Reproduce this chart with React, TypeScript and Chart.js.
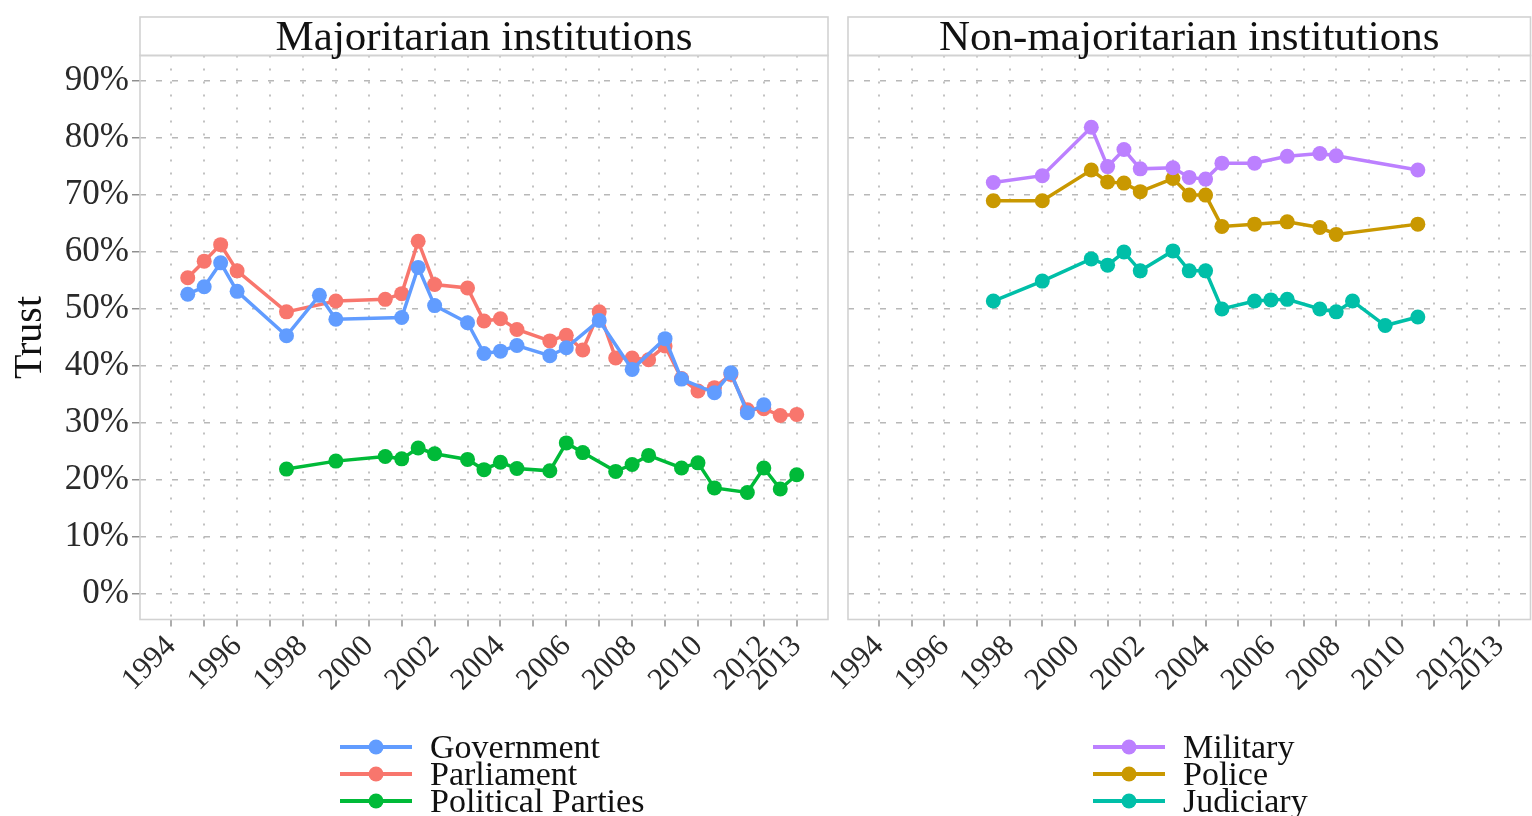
import React, { useEffect, useRef } from 'react';
import { Chart, registerables } from 'chart.js';

Chart.register(...registerables);

// ---------- Data (trust, %) ----------
const GOV_YEARS = [1994.5, 1995, 1995.5, 1996, 1997.5, 1998.5, 1999, 2001, 2001.5, 2002, 2003, 2003.5, 2004, 2004.5, 2005.5, 2006, 2007, 2008, 2009, 2009.5, 2010.5, 2011, 2011.5, 2012];
const GOV_VALUES = [52.6, 53.9, 58.1, 53.1, 45.3, 52.4, 48.2, 48.5, 57.3, 50.6, 47.6, 42.2, 42.6, 43.6, 41.8, 43.2, 48.0, 39.4, 44.8, 37.7, 35.3, 38.8, 31.8, 33.2];

const PARL_YEARS = [1994.5, 1995, 1995.5, 1996, 1997.5, 1999, 2000.5, 2001, 2001.5, 2002, 2003, 2003.5, 2004, 2004.5, 2005.5, 2006, 2006.5, 2007, 2007.5, 2008, 2008.5, 2009, 2009.5, 2010, 2010.5, 2011, 2011.5, 2012, 2012.5, 2013];
const PARL_VALUES = [55.5, 58.4, 61.3, 56.7, 49.5, 51.4, 51.7, 52.7, 61.9, 54.3, 53.7, 47.9, 48.3, 46.4, 44.4, 45.4, 42.8, 49.5, 41.4, 41.4, 41.1, 43.5, 37.8, 35.6, 36.2, 38.5, 32.3, 32.5, 31.3, 31.5];

const PARTY_YEARS = [1997.5, 1999, 2000.5, 2001, 2001.5, 2002, 2003, 2003.5, 2004, 2004.5, 2005.5, 2006, 2006.5, 2007.5, 2008, 2008.5, 2009.5, 2010, 2010.5, 2011.5, 2012, 2012.5, 2013];
const PARTY_VALUES = [21.9, 23.3, 24.1, 23.7, 25.6, 24.6, 23.6, 21.8, 23.1, 22.0, 21.6, 26.5, 24.8, 21.5, 22.7, 24.3, 22.1, 23.0, 18.6, 17.8, 22.1, 18.4, 20.9];

const MIL_YEARS = [1997.5, 1999, 2000.5, 2001, 2001.5, 2002, 2003, 2003.5, 2004, 2004.5, 2005.5, 2006.5, 2007.5, 2008, 2010.5];
const MIL_VALUES = [72.2, 73.4, 81.9, 75.0, 78.0, 74.6, 74.8, 73.1, 72.8, 75.6, 75.6, 76.8, 77.3, 76.9, 74.4];

const POLICE_YEARS = [1997.5, 1999, 2000.5, 2001, 2001.5, 2002, 2003, 2003.5, 2004, 2004.5, 2005.5, 2006.5, 2007.5, 2008, 2010.5];
const POLICE_VALUES = [69.0, 69.0, 74.4, 72.3, 72.1, 70.6, 72.9, 70.0, 70.0, 64.5, 64.9, 65.3, 64.3, 63.1, 64.9];

const JUD_YEARS = [1997.5, 1999, 2000.5, 2001, 2001.5, 2002, 2003, 2003.5, 2004, 2004.5, 2005.5, 2006, 2006.5, 2007.5, 2008, 2008.5, 2009.5, 2010.5];
const JUD_VALUES = [51.4, 54.9, 58.8, 57.7, 60.0, 56.7, 60.2, 56.7, 56.7, 50.0, 51.4, 51.6, 51.7, 50.0, 49.5, 51.4, 47.1, 48.6];

const TICK_YEARS = [1994, 1995, 1996, 1997, 1998, 1999, 2000, 2001, 2002, 2003, 2004, 2005, 2006, 2007, 2008, 2009, 2010, 2011, 2012, 2013];
const LABEL_YEARS = [1994, 1996, 1998, 2000, 2002, 2004, 2006, 2008, 2010, 2012, 2013];
const Y_TICKS = [0, 10, 20, 30, 40, 50, 60, 70, 80, 90];

const LEFT_TITLE = 'Majoritarian institutions';
const RIGHT_TITLE = 'Non-majoritarian institutions';
const Y_TITLE = 'Trust';

const SERIF = "'Liberation Serif', 'Times New Roman', 'DejaVu Serif', serif";

type Series = { label: string; years: number[]; values: number[]; color: string };

const LEFT_SERIES: Series[] = [
  { label: 'Government', years: GOV_YEARS, values: GOV_VALUES, color: '#619CFF' },
  { label: 'Parliament', years: PARL_YEARS, values: PARL_VALUES, color: '#F8766D' },
  { label: 'Political Parties', years: PARTY_YEARS, values: PARTY_VALUES, color: '#00BA38' },
];
const RIGHT_SERIES: Series[] = [
  { label: 'Military', years: MIL_YEARS, values: MIL_VALUES, color: '#BC80FF' },
  { label: 'Police', years: POLICE_YEARS, values: POLICE_VALUES, color: '#C99800' },
  { label: 'Judiciary', years: JUD_YEARS, values: JUD_VALUES, color: '#00BFA8' },
];

const decorPlugin = {
  id: 'panelDecor',
  afterDraw(chart: any, _args: any, opts: any) {
    const { ctx, chartArea: a } = chart;
    ctx.save();
    const stripTop = 17;
    ctx.fillStyle = '#ffffff';
    ctx.fillRect(a.left, stripTop, a.right - a.left, a.top - stripTop);
    ctx.strokeStyle = '#d2d2d2';
    ctx.lineWidth = 1.6;
    ctx.strokeRect(a.left, stripTop, a.right - a.left, a.top - stripTop);
    ctx.strokeRect(a.left, a.top, a.right - a.left, a.bottom - a.top);
    ctx.fillStyle = '#111';
    ctx.font = `43px ${SERIF}`;
    ctx.textAlign = 'center';
    ctx.textBaseline = 'middle';
    ctx.fillText(opts.title, (a.left + a.right) / 2, (stripTop + a.top) / 2 + 2);
    const items: { label: string; color: string }[] = opts.items || [];
    const x0 = opts.legendX;
    items.forEach((it, i) => {
      const y = 747 + i * 27;
      ctx.strokeStyle = it.color;
      ctx.lineWidth = 4;
      ctx.beginPath();
      ctx.moveTo(x0, y);
      ctx.lineTo(x0 + 72, y);
      ctx.stroke();
      ctx.fillStyle = it.color;
      ctx.beginPath();
      ctx.arc(x0 + 36, y, 7.5, 0, Math.PI * 2);
      ctx.fill();
      ctx.fillStyle = '#111';
      ctx.font = `34px ${SERIF}`;
      ctx.textAlign = 'left';
      ctx.textBaseline = 'middle';
      ctx.fillText(it.label, x0 + 90, y + 2);
    });
    ctx.restore();
  },
};

function buildConfig(series: Series[], isLeft: boolean, title: string, legendX: number, yWidth: number, padRight: number): any {
  return {
    type: 'line',
    data: {
      datasets: series.map((s) => ({
        label: s.label,
        data: s.years.map((x, i) => ({ x, y: s.values[i] })),
        borderColor: s.color,
        backgroundColor: s.color,
        pointBackgroundColor: s.color,
        pointBorderColor: s.color,
        pointBorderWidth: 0,
        pointRadius: 7.5,
        borderWidth: 3.5,
        tension: 0,
        fill: false,
      })),
    },
    options: {
      responsive: false,
      animation: false,
      events: [],
      layout: { padding: { left: 0, right: padRight, top: 55.5, bottom: 100.5 } },
      plugins: {
        legend: { display: false },
        tooltip: { enabled: false },
        title: { display: false },
        panelDecor: { title, legendX, items: series.map((s) => ({ label: s.label, color: s.color })) },
      },
      scales: {
        x: {
          type: 'linear',
          min: 1993.05,
          max: 2013.95,
          afterBuildTicks: (scale: any) => {
            scale.ticks = TICK_YEARS.map((v) => ({ value: v }));
          },
          afterFit: (scale: any) => {
            scale.height = 96;
          },
          border: { display: false, dash: [2, 11] },
          grid: {
            color: '#c2c2c2',
            lineWidth: 2,
            tickLength: 7,
            tickColor: '#8a8a8a',
            tickWidth: 1.4,
            tickBorderDash: [],
          },
          ticks: {
            autoSkip: false,
            minRotation: 45,
            maxRotation: 45,
            padding: 2,
            color: '#2a2a2a',
            font: { family: SERIF, size: 31 },
            callback: (v: any) => (LABEL_YEARS.includes(Number(v)) ? String(v) : ''),
          },
        },
        y: {
          type: 'linear',
          min: -4.5,
          max: 94.5,
          afterBuildTicks: (scale: any) => {
            scale.ticks = Y_TICKS.map((v) => ({ value: v }));
          },
          afterFit: (scale: any) => {
            scale.width = yWidth;
          },
          border: { display: false, dash: [6, 10] },
          grid: {
            color: '#b8b8b8',
            lineWidth: 1.5,
            drawTicks: isLeft,
            tickLength: 8,
            tickColor: '#8a8a8a',
            tickWidth: 1.4,
            tickBorderDash: [],
          },
          ticks: {
            display: isLeft,
            padding: 3,
            color: '#2a2a2a',
            font: { family: SERIF, size: 35 },
            callback: (v: any) => `${v}%`,
          },
          title: {
            display: isLeft,
            text: Y_TITLE,
            color: '#111',
            font: { family: SERIF, size: 40 },
            padding: { top: 6, bottom: 0 },
          },
        },
      },
    },
    plugins: [decorPlugin],
  };
}

function Panel({ series, isLeft, title, legendX, left, width, yWidth, padRight }: any) {
  const ref = useRef<HTMLCanvasElement | null>(null);
  useEffect(() => {
    if (!ref.current) return;
    const chart = new Chart(ref.current, buildConfig(series, isLeft, title, legendX, yWidth, padRight));
    return () => chart.destroy();
  }, []);
  return (
    <canvas
      ref={ref}
      width={width}
      height={816}
      style={{ position: 'absolute', left, top: 0, width, height: 816, display: 'block' }}
    />
  );
}

export default function App() {
  return (
    <div
      style={{
        position: 'fixed',
        left: 0,
        top: 0,
        width: 1532,
        height: 816,
        overflow: 'hidden',
        background: '#ffffff',
      }}
    >
      <Panel series={LEFT_SERIES} isLeft={true} title={LEFT_TITLE} legendX={340} left={0} width={838} yWidth={140} padRight={10} />
      <Panel series={RIGHT_SERIES} isLeft={false} title={RIGHT_TITLE} legendX={275} left={818} width={720} yWidth={30} padRight={2} />
    </div>
  );
}
